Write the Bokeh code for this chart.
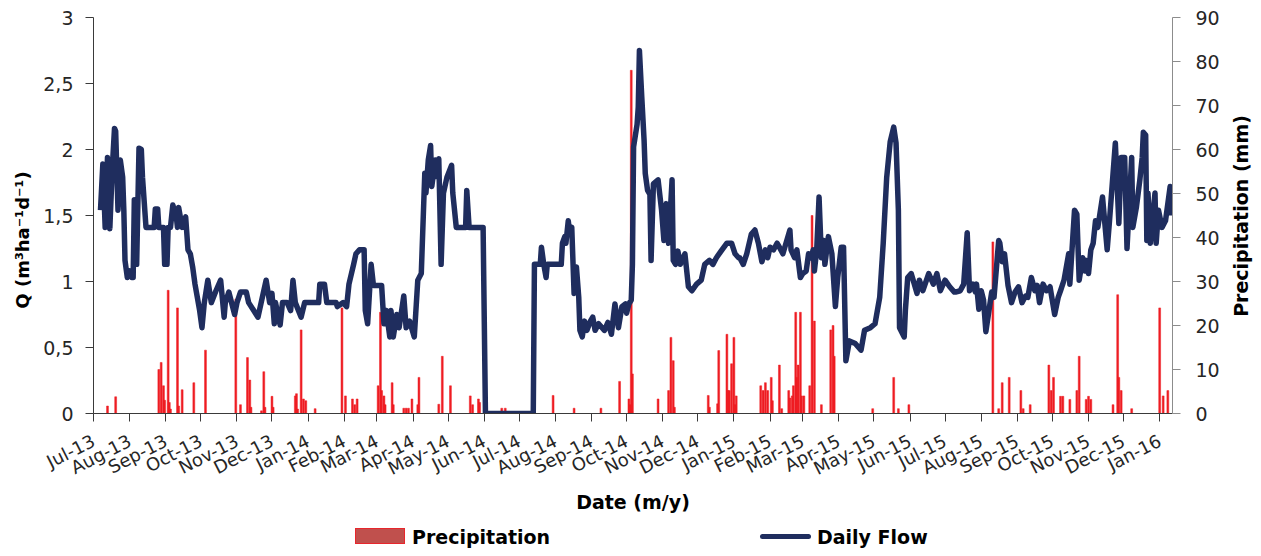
import pandas as pd
from bokeh.plotting import figure
from bokeh.layouts import row, column
from bokeh.models import (Range1d, LinearAxis, FixedTicker, DatetimeTickFormatter,
                          CustomJSTickFormatter, Div)
from bokeh.embed import file_html
from bokeh.resources import INLINE

START = pd.Timestamp("2013-07-01")

# Daily flow (Q, m3 ha-1 d-1), sampled: day offset from 2013-07-01, value
flow_day = [6, 8, 10, 12, 14, 16, 18, 19, 21, 23, 25, 26, 27, 29, 31, 33, 34, 35, 36, 37, 39, 41, 42, 45,
            52, 53, 55, 56, 60, 61, 63, 64, 66, 68, 71, 72, 73, 76, 79, 81, 83, 85, 87, 89, 91, 93, 95, 98,
            101, 105, 109, 112, 113, 116, 121, 123, 126, 131, 133, 141, 148, 151, 153, 155, 156, 160, 162,
            166, 169, 171, 173, 178, 181,
            183, 193, 194, 198, 200, 208, 209, 214, 217, 219, 223, 225, 228, 232, 233, 235, 238, 240, 247,
            249, 251, 254, 255, 257, 260, 262, 266, 268, 271, 275, 278, 281, 284, 285, 287, 289, 290, 293,
            295, 296, 298, 300, 303, 307, 308, 311, 319, 320, 322, 334, 336, 377,
            378, 383, 384, 386, 388, 389, 401, 402, 404, 405, 407, 408, 410, 412, 414, 416, 417, 419, 421,
            423, 426, 428, 430, 433, 438, 441, 444, 447, 450, 453, 456, 457, 459, 461, 462, 463, 466, 467,
            468, 470, 472, 473, 475, 477, 478, 480, 484, 487, 489, 491, 493, 496, 497, 499, 501, 503, 507,
            510, 513, 517, 521, 524, 528, 531, 534, 538, 543, 547, 550, 553,
            554, 557, 560, 564, 567, 570, 573, 576, 578, 580, 583, 586, 588, 591, 597, 598, 601, 603, 606,
            608, 611, 613, 615, 617, 618, 620, 622, 624, 626, 627, 630, 633, 636, 638, 641, 643, 645, 648,
            653, 658, 661, 666, 670, 674, 677, 680, 683, 686, 688, 690, 691, 695, 696, 698, 701, 706, 708,
            711, 716, 720, 723, 726, 730, 734, 738,
            739, 743, 746, 749, 751, 754, 756, 757, 759, 761, 763, 765, 769, 770, 772, 776, 777, 779, 781,
            784, 787, 790, 793, 796, 799, 801, 804, 807, 809, 811, 814, 817, 820, 824, 827, 829, 832, 836,
            837, 841, 843, 845, 848, 850, 851, 853, 855, 857, 859, 861, 865, 869, 871, 876, 879, 881, 884,
            886, 890, 891, 894, 897, 899, 900, 902, 903, 904, 906, 910, 911, 913, 916, 919, 923, 924]
flow_q = [1.54, 1.89, 1.41, 1.94, 1.40, 1.84, 2.16, 2.14, 1.54, 1.92, 1.79, 1.54, 1.16, 1.03, 1.08, 1.03,
          1.03, 1.62, 1.54, 1.13, 2.01, 2.00, 1.79, 1.41,
          1.41, 1.55, 1.55, 1.41, 1.41, 1.13, 1.13, 1.41, 1.41, 1.58, 1.49, 1.41, 1.56, 1.41, 1.49, 1.24,
          1.21, 1.11, 0.98, 0.88, 0.78, 0.65, 0.84, 1.01,
          0.84, 0.93, 1.01, 0.73, 0.84, 0.92, 0.75, 0.84, 0.92, 0.92, 0.84, 0.73, 1.01, 0.84, 0.91, 0.68,
          0.84, 0.67, 0.84,
          0.84, 0.78, 1.01, 0.84, 0.73, 0.84,
          0.84, 0.84, 0.98, 0.98, 0.84, 0.84, 0.81, 0.84, 0.81, 0.98, 1.13, 1.21, 1.24, 1.24, 0.78, 0.68,
          1.13, 0.97, 0.97,
          0.68, 0.78, 0.58, 0.78, 0.58, 0.75, 0.65, 0.89, 0.65, 0.70, 0.58, 1.01, 1.06, 1.82, 1.67, 1.92,
          2.03, 1.72, 1.92,
          1.79, 1.93, 1.13, 1.67, 1.79, 1.88, 1.67, 1.41, 1.41, 1.69, 1.41, 1.41, 0.0, 0.0,
          1.13, 1.13, 1.26, 1.13, 1.03, 1.13, 1.13, 1.29, 1.34, 1.29, 1.46, 1.39, 1.41, 0.91, 1.11, 0.88,
          0.63, 0.58, 0.70,
          0.63, 0.70, 0.73, 0.63, 0.68, 0.63, 0.69, 0.60, 0.83, 0.65, 0.81, 0.83, 0.76, 0.83, 0.86, 1.13,
          2.02, 2.19, 2.32,
          2.75, 2.40, 2.07, 1.82, 1.69, 1.66, 1.16, 1.74, 1.77, 1.54, 1.31, 1.59, 1.29, 1.77, 1.16, 1.13,
          1.23, 1.13, 1.21,
          0.96, 0.93, 0.98, 1.01, 1.13, 1.16, 1.13, 1.18, 1.23, 1.29, 1.29, 1.21, 1.18,
          1.18, 1.13, 1.21, 1.36, 1.39, 1.29, 1.15, 1.24, 1.18, 1.26, 1.24, 1.29, 1.26, 1.21, 1.39, 1.24,
          1.18, 1.24, 1.03,
          1.06, 1.08, 1.21, 1.18, 1.24, 1.08, 1.24, 1.64, 1.18, 1.31, 1.13, 1.34, 1.21, 0.81, 1.03, 1.26,
          1.26, 0.40, 0.55,
          0.53, 0.48, 0.63, 0.65, 0.68, 0.88, 1.29, 1.79, 2.06, 2.17, 2.05, 1.54, 0.65, 0.58, 0.78, 1.03,
          1.06, 0.91, 1.01,
          0.93, 1.06, 0.98, 1.06, 0.93, 1.01, 0.96, 0.92,
          0.92, 0.93, 0.98, 1.37, 0.93, 0.98, 0.92, 0.98, 0.79, 0.93, 0.86, 0.62, 0.86, 0.92, 0.88, 1.31,
          1.29, 1.15, 1.21,
          0.97, 0.84, 0.92, 0.96, 0.84, 0.89, 0.88, 1.03, 0.93, 0.97, 0.84, 0.98, 0.93, 0.96, 0.75, 0.88,
          0.93, 1.01, 1.21,
          0.98, 1.54, 1.51, 1.01, 1.18, 1.08, 1.16, 1.06, 1.24, 1.29, 1.46, 1.41, 1.64, 1.24, 1.46, 2.05,
          1.44, 1.94, 1.94,
          1.25, 1.94, 1.41, 1.56, 1.77, 1.94, 2.13, 2.11, 1.31, 1.67, 1.29, 1.67, 1.29, 1.54, 1.41, 1.46,
          1.72, 1.50]

# Daily precipitation (mm): day offset from 2013-07-01, value
precip_day = [12, 19, 56, 58, 60, 61, 64, 65, 66, 72, 73, 76, 86, 96, 122, 126, 132, 134, 135, 144, 146,
              147, 153, 154, 173, 174, 175, 178, 180, 182,
              190, 213, 216, 222, 224, 226, 244, 246, 247, 249, 250, 256, 257, 266, 268, 270, 273, 278,
              279, 296, 299, 306, 323, 325, 330, 331, 350, 353,
              394, 412, 435, 451, 459, 460, 461, 462, 484, 493, 495, 497, 498, 527, 528, 535, 536, 543,
              544, 545, 547, 549, 550,
              551, 572, 574, 576, 578, 581, 582, 588, 590, 596, 597, 599, 600, 602, 603, 604, 606, 607,
              609, 614, 616, 618, 624, 632, 634, 635, 668, 686, 690, 699,
              771, 776, 779, 785, 795, 797, 803, 819, 821, 823, 829, 831, 837, 843, 845, 851, 853, 855,
              874, 878, 879, 881, 890, 914, 917, 921]
precip_mm = [1.7, 3.8, 10, 11.6, 6.3, 3, 28, 2.5, 1, 24, 1.7, 5.4, 7, 14.4, 26, 2, 12.7, 7.6, 1.4, 0.6, 9.5,
             1.4, 3.9, 1.4, 4, 4.5, 1, 19, 3.3, 2.9,
             1.1, 24, 4, 3.3, 2, 3.3, 6.3, 23, 5.2, 4, 2, 7, 2, 1.2, 1.2, 1.2, 3.3, 2,
             8.2, 2.1, 13, 6.3, 4, 2, 3.3, 2.5, 1.2, 1.2,
             4.1, 1.2, 1.2, 7.3, 3.3, 2, 78, 9, 3.3, 5.2, 17.3, 12, 1.4, 4.1, 1.4, 2.2, 14.3, 18,
             5.2, 5.2, 11.3, 17.3, 2,
             4, 6.3, 5.2, 7, 5.2, 8.2, 2.9, 11, 1.1, 5.2, 3.5, 4, 6.3, 23, 8.2, 11, 23, 4,
             4, 6.3, 45, 21, 2, 19, 20, 13, 1.1, 8.2, 1.1, 2,
             39, 1.1, 7, 8.2, 5.2, 1.1, 2, 11, 5.2, 8.2, 3.9, 3.9, 3.2, 5.2, 13, 3.2, 3.9, 3.2,
             2, 27, 8.2, 5.2, 1.1, 24, 4, 5.2]

month_ticks = pd.date_range("2013-07-01", "2016-01-01", freq="MS")
q_ticks = [0, 0.5, 1, 1.5, 2, 2.5, 3]
p_ticks = [0, 10, 20, 30, 40, 50, 60, 70, 80, 90]
q_title_text = "Q (m³ha⁻¹d⁻¹)"
p_title_text = "Precipitation (mm)"
legend_labels = ["Precipitation", "Daily Flow"]

flow_x = START + pd.to_timedelta(flow_day, unit="D")
precip_x = START + pd.to_timedelta(precip_day, unit="D")

FONT = "DejaVu Sans"
TXT = "#262626"
BAR_COLOR = "#EE1D23"
LINE_COLOR = "#1F2D5E"
LW, RW, SH = 40, 32, 420     # side strips holding the vertical axis titles

p = figure(frame_width=1079, frame_height=396, x_axis_type="datetime",
           output_backend="svg", toolbar_location=None,
           x_range=Range1d(START, START + pd.Timedelta(days=925)),
           y_range=Range1d(0, 3),
           min_border_left=92 - LW, min_border_right=50, min_border_top=17, min_border_bottom=100)
p.extra_y_ranges = {"precip": Range1d(0, 90)}
p.grid.visible = False
p.outline_line_color = None
p.background_fill_color = "white"

bars = p.vbar(x=precip_x, top=precip_mm, bottom=0, width=86400000 * 1.6,
              fill_color=BAR_COLOR, line_color=BAR_COLOR, line_width=0.5, y_range_name="precip")
line = p.line(flow_x, flow_q, line_color=LINE_COLOR, line_width=5.5, line_join="round")

xa = p.xaxis[0]
xa.ticker = FixedTicker(ticks=[t.value / 1e6 for t in month_ticks])
fmt = "%b-%y"
xa.formatter = DatetimeTickFormatter(days=fmt, months=fmt, years=fmt, hours=fmt, minutes=fmt,
                                     seconds=fmt, milliseconds=fmt, microseconds=fmt, hourmin=fmt,
                                     minsec=fmt)
xa.major_label_orientation = 0.47
xa.axis_label = "Date (m/y)"

ya = p.yaxis[0]
ya.ticker = FixedTicker(ticks=q_ticks)
ya.formatter = CustomJSTickFormatter(code="return tick.toString().replace('.', ',');")

ra = LinearAxis(y_range_name="precip", ticker=FixedTicker(ticks=p_ticks))
p.add_layout(ra, "right")

for ax in (xa, ya, ra):
    ax.major_tick_in = 0
    ax.major_tick_out = 8
    ax.minor_tick_line_color = None
    ax.axis_line_color = "#3a3a3a"
    ax.major_tick_line_color = "#3a3a3a"
    ax.major_label_text_font = FONT
    ax.major_label_text_color = TXT
    ax.axis_label_text_font = FONT
    ax.axis_label_text_font_style = "bold"
    ax.axis_label_text_color = "#000000"
    ax.axis_label_text_font_size = "19px"
ra.axis_line_color = "#8c8c8c"
ra.major_tick_line_color = "#8c8c8c"

xa.major_label_text_font_size = "18px"
xa.major_label_standoff = 18
xa.axis_label_standoff = 0
ya.major_label_text_font_size = "19px"
ya.major_label_standoff = 12
ra.major_label_text_font_size = "19px"
ra.major_label_standoff = 15


def title_strip(width, text, cx, cy, size):
    html = (f'<div style="position:relative;width:{width}px;height:{SH}px;overflow:hidden;">'
            f'<div style="position:absolute;left:{cx}px;top:{cy}px;'
            f'transform:translate(-50%,-50%) rotate(-90deg);white-space:nowrap;'
            f"font-family:'DejaVu Sans';font-weight:bold;font-size:{size};line-height:1.2;"
            f'color:#000000;">{text}</div></div>')
    return Div(text=html, width=width, height=SH, margin=0)


left_strip = title_strip(LW, q_title_text, 23, 240, "18px")
right_strip = title_strip(RW, p_title_text, 19, 216, "19px")

lbl = "font-family:'DejaVu Sans';font-weight:bold;font-size:19px;color:#000000;white-space:nowrap;"
legend_html = (
    '<div style="position:relative;width:1250px;height:40px;">'
    '<div style="position:absolute;left:355px;top:12px;width:50px;height:16px;'
    f'background:#C0504D;border:1.5px solid #E8262C;"></div>'
    f'<div style="position:absolute;left:412px;top:8px;{lbl}">{legend_labels[0]}</div>'
    f'<div style="position:absolute;left:760px;top:18px;width:51px;height:5px;border-radius:3px;'
    f'background:{LINE_COLOR};"></div>'
    f'<div style="position:absolute;left:817px;top:8px;{lbl}">{legend_labels[1]}</div>'
    '</div>')
legend_div = Div(text=legend_html, width=1250, height=40, margin=0)

layout = column(row(left_strip, p, right_strip, spacing=0), legend_div, spacing=0)

open("out.html", "w").write(file_html(layout, INLINE))
